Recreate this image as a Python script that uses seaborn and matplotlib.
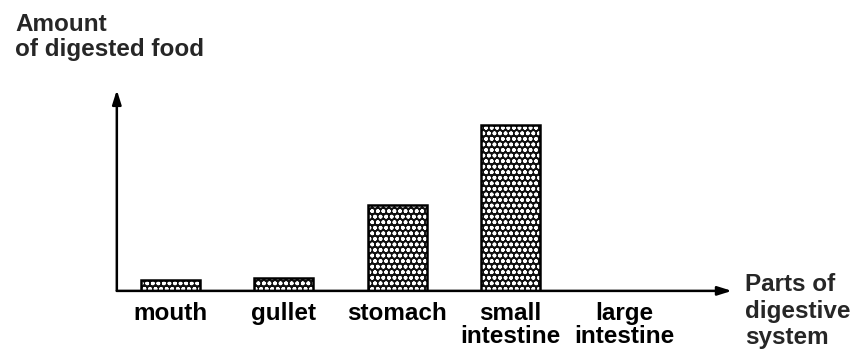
import matplotlib
matplotlib.use("Agg")
import matplotlib.pyplot as plt
import seaborn as sns
import pandas as pd

# Relative amount of digested food in each part of the digestive system
parts = ["mouth", "gullet", "stomach", "small\nintestine", "large\nintestine"]
amount = [6.5, 8.0, 52.0, 100.0, 0.0]

sns.set_theme(style="white")
plt.rcParams["font.family"] = ["Liberation Sans", "DejaVu Sans"]
plt.rcParams["hatch.linewidth"] = 1.1

df = pd.DataFrame({"part": parts, "amount": amount})

fig = plt.figure(figsize=(8.59, 3.6), dpi=100)
ax = fig.add_axes([0.136, 0.192, 0.716, 0.558])

# textured fill: dark body with a light hatch pattern
sns.barplot(data=df, x="part", y="amount", order=parts, ax=ax,
            color="#101010", width=0.52, saturation=1)
for p in ax.patches:
    p.set_edgecolor("white")
    p.set_hatch("ooo")
    p.set_linewidth(0)
# solid outline around each bar
sns.barplot(data=df, x="part", y="amount", order=parts, ax=ax,
            fill=False, color="black", width=0.52, linewidth=1.8)

ax.set_xlim(-0.471, 4.95)
ax.set_ylim(0, 121)
for s in ax.spines.values():
    s.set_visible(False)
ax.set_xlabel("")
ax.set_ylabel("")
ax.set_yticks([])
ax.set_xticks(range(len(parts)))
ax.set_xticklabels(parts, fontsize=17.5, fontweight="bold", color="black")
ax.tick_params(axis="x", length=0, pad=8)
for lab in ax.get_xticklabels():
    lab.set_linespacing(1.0)

# axes drawn as arrows
arrow = dict(arrowstyle="-|>,head_length=0.7,head_width=0.22", color="black",
             lw=1.8, shrinkA=0, shrinkB=0)
ax.annotate("", xy=(1, 0), xytext=(0, 0), xycoords="axes fraction",
            textcoords="axes fraction", arrowprops=arrow, annotation_clip=False)
ax.annotate("", xy=(0, 1), xytext=(0, 0), xycoords="axes fraction",
            textcoords="axes fraction", arrowprops=arrow, annotation_clip=False)

fig.text(15 / 859, 1 - 13 / 360, "Amount\nof digested food", ha="left", va="top",
         fontsize=17.5, fontweight="bold", linespacing=1.1)
fig.text(745 / 859, 1 - 273 / 360, "Parts of\ndigestive\nsystem", ha="left", va="top",
         fontsize=17.5, fontweight="bold", linespacing=1.2)

fig.savefig("out.png", dpi=100, facecolor="white")
